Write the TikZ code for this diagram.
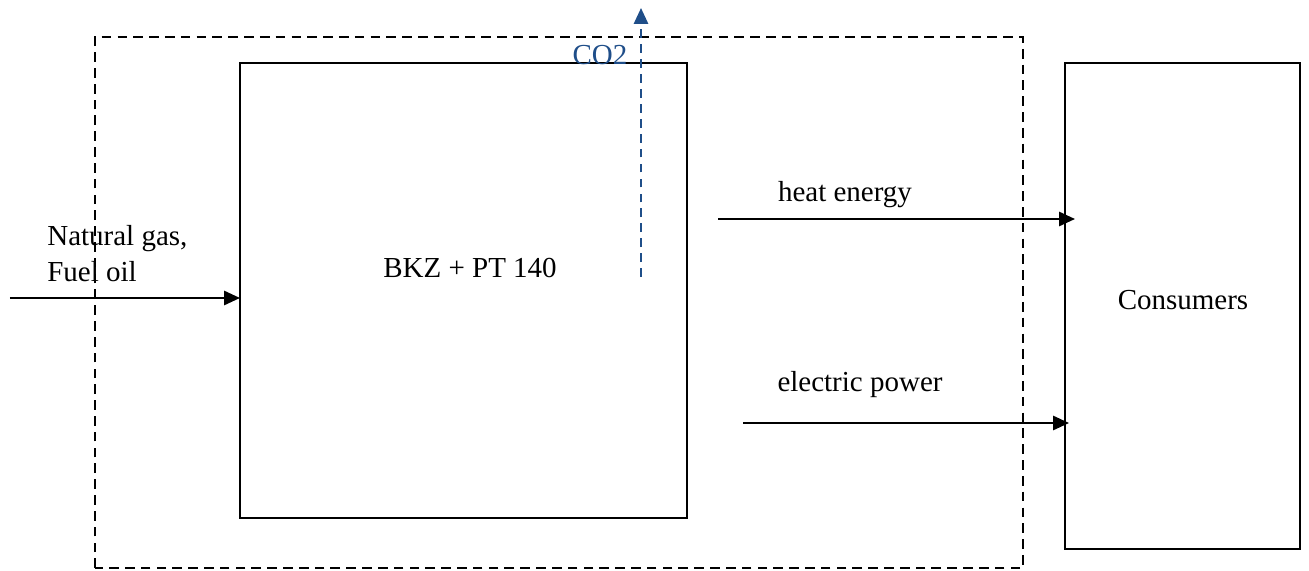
\documentclass[tikz,border=0pt]{standalone}
\usepackage{fontspec}
\setmainfont{Liberation Serif}
\usetikzlibrary{arrows.meta}
\definecolor{codblue}{RGB}{31,78,137}

\begin{document}
\begin{tikzpicture}[line cap=butt,line join=miter,
    box/.style={draw,line width=0.6pt,minimum width=0pt},
    flow/.style={line width=1.3pt,-{Triangle[length=9pt,width=8pt]}},
    txt/.style={font=\fontsize{16.5}{20.5}\selectfont,inner sep=0pt}]
  \useasboundingbox (0,0) rectangle (26.18,11.40);
  % system border
  \draw[line width=0.9pt,dash pattern=on 5.5pt off 3.5pt] (1.90,0.04) rectangle (20.46,10.66);
  % plant and consumers
  \draw[box] (4.80,1.04) rectangle (13.74,10.14);
  \draw[box] (21.30,0.42) rectangle (26.00,10.14);
  \node[txt] (plant) at (9.40,6.04) {BKZ + PT 140};
  \node[txt] (cons) at (23.66,5.40) {Consumers};
  % end points of the flows
  \coordinate (fuelin) at (0.20,5.44);
  \coordinate (fuelend) at (4.80,5.44);
  \coordinate (heatin) at (14.36,7.02);
  \coordinate (heatend) at (21.50,7.02);
  \coordinate (elin) at (14.86,2.94);
  \coordinate (elend) at (21.38,2.94);
  \coordinate (coin) at (12.82,5.86);
  \coordinate (coend) at (12.82,11.24);
  \draw[flow] (fuelin) -- (fuelend);
  \draw[flow] (heatin) -- (heatend);
  \draw[flow] (elin) -- (elend);
  \draw[flow,codblue,dash pattern=on 5pt off 3.5pt] (coin) -- (coend);
  \node[txt,align=left,anchor=west] (fuel) at (0.94,6.32) {Natural gas,\\Fuel oil};
  \node[txt] (heat) at (16.90,7.50) {heat energy};
  \node[txt] (el) at (17.20,3.70) {electric power};
  \node[txt,text=codblue] (co) at (12.00,10.30) {CO2};
\end{tikzpicture}
\end{document}
